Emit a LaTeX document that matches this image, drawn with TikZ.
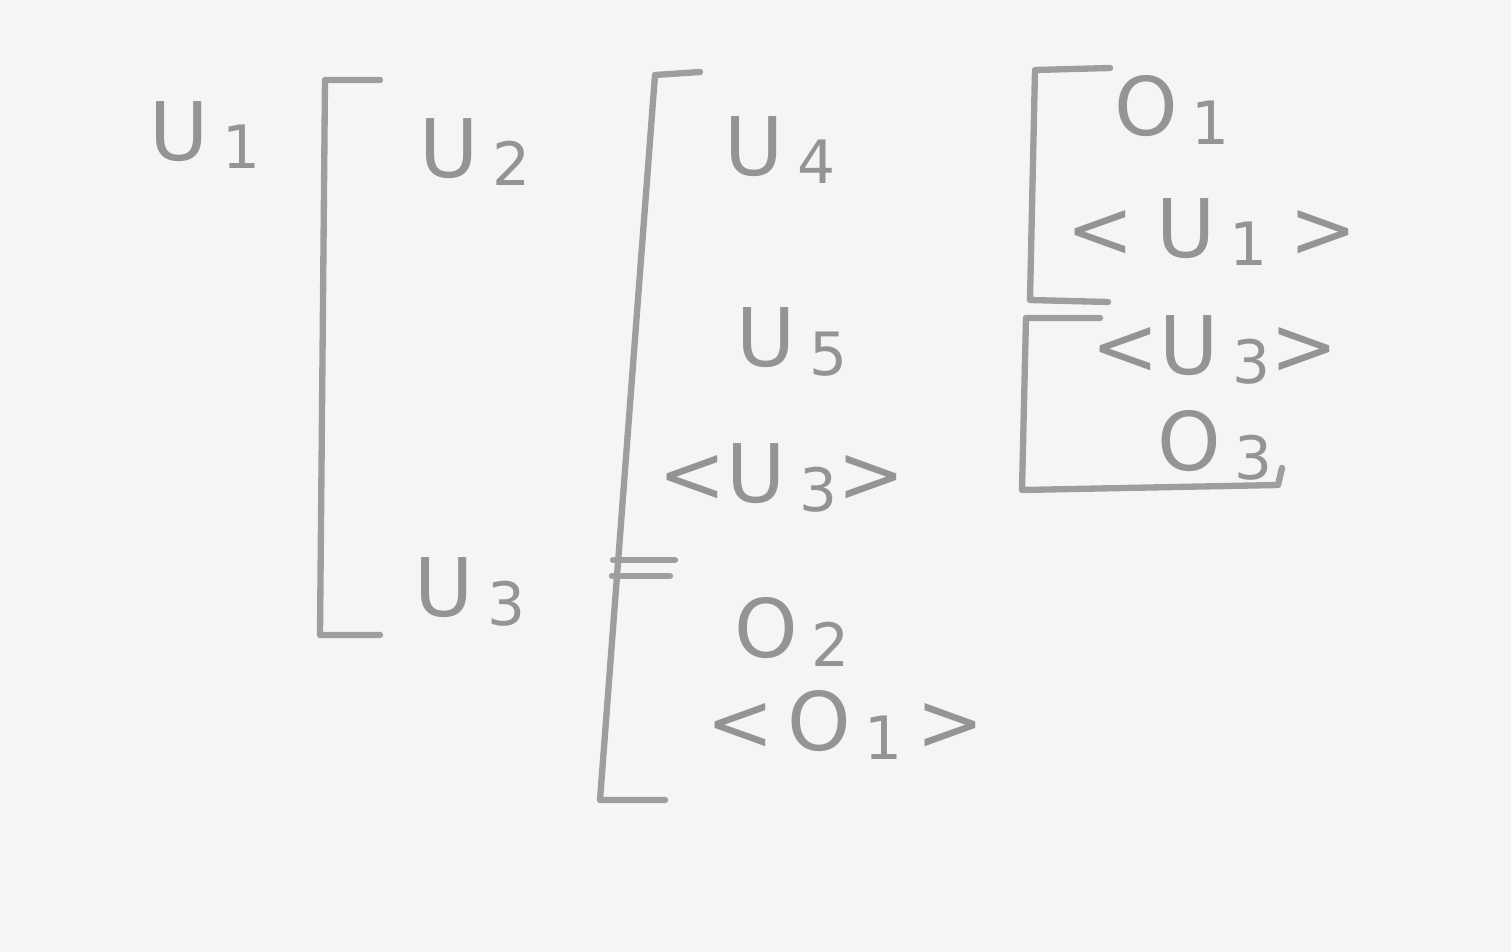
\documentclass[tikz,border=0pt]{standalone}
\usepackage{fontspec}
\setsansfont{DejaVu Sans}
\newcommand{\lab}[2]{#1\,\raisebox{-0.2ex}{\fontsize{17}{17}\selectfont #2}}
\begin{document}
\begin{tikzpicture}[x=0.01cm,y=-0.01cm,
    every node/.style={text=black!42, font=\sffamily\fontsize{23}{25}\selectfont, inner sep=1pt},
    brk/.style={draw=black!38, line width=1.8pt, line join=round, line cap=round}]
    \fill[black!4] (0,0) rectangle (1511,952);
    \useasboundingbox (0,0) rectangle (1511,952);
    % names
    \node (u1) at (205,135) {\lab{U}{1}};
    \node (u2) at (475,152) {\lab{U}{2}};
    \node (u3) at (470,592) {\lab{U}{3}};
    \node (u4) at (780,150) {\lab{U}{4}};
    \node (u5) at (792,342) {\lab{U}{5}};
    \node (u3b) at (782,478) {<\lab{U}{3}>};
    \node (o2) at (792,632) {\lab{O}{2}};
    \node (o1b) at (845,725) {<\,\lab{O}{1}\,>};
    \node (o1) at (1172,110) {\lab{O}{1}};
    \node (u1b) at (1212,232) {<\;\lab{U}{1}\;>};
    \node (u3c) at (1215,350) {<\lab{U}{3}>};
    \node (o3) at (1215,445) {\lab{O}{3}};
    % brackets
    \draw[brk] (380,80) -- (325,80) -- (320,635) -- (380,635);
    \draw[brk] (700,72) -- (655,75) -- (600,800) -- (665,800);
    \draw[brk] (613,560) -- (675,560);
    \draw[brk] (612,576) -- (670,576);
    \draw[brk] (1110,68) -- (1035,70) -- (1030,300) -- (1108,302);
    \draw[brk] (1100,318) -- (1026,318) -- (1022,490) -- (1278,485) -- (1282,468);
\end{tikzpicture}
\end{document}
